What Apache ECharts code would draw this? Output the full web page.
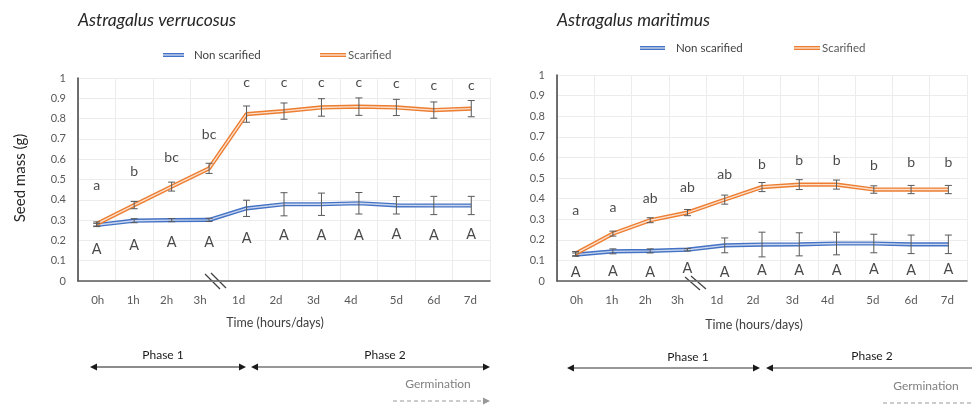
<!DOCTYPE html>
<html><head><meta charset="utf-8">
<script src="https://cdn.jsdelivr.net/npm/echarts@6/dist/echarts.min.js"></script>
<style>html,body{margin:0;padding:0;background:#fff}#c{width:972px;height:405px}</style>
</head><body><div id="c"></div>
<script>
const cats = ['0h','1h','2h','3h','1d','2d','3d','4d','5d','6d','7d'];
const yTicks = [0,0.1,0.2,0.3,0.4,0.5,0.6,0.7,0.8,0.9,1];

const verrNon = [0.276,0.297,0.300,0.301,0.358,0.378,0.378,0.383,0.373,0.372,0.372];
const verrNonErr = [0.008,0.010,0.008,0.008,0.040,0.057,0.055,0.053,0.043,0.045,0.045];
const verrScar = [0.281,0.374,0.465,0.555,0.822,0.837,0.855,0.859,0.855,0.842,0.849];
const verrScarErr = [0.010,0.018,0.022,0.025,0.040,0.040,0.043,0.043,0.040,0.040,0.040];
const verrLower = ['a','b','bc','bc','c','c','c','c','c','c','c'];
const verrLowerY = [0.47,0.54,0.61,0.72,0.98,0.98,0.98,0.98,0.975,0.965,0.965];
const verrUpper = ['A','A','A','A','A','A','A','A','A','A','A'];
const verrUpperY = [0.157,0.177,0.192,0.19,0.212,0.227,0.227,0.227,0.232,0.227,0.232];

const mariNon = [0.128,0.144,0.146,0.152,0.173,0.177,0.178,0.182,0.182,0.178,0.178];
const mariNonErr = [0.008,0.012,0.010,0.006,0.036,0.060,0.056,0.055,0.045,0.045,0.045];
const mariScar = [0.133,0.230,0.295,0.332,0.395,0.456,0.468,0.468,0.444,0.444,0.444];
const mariScarErr = [0.010,0.012,0.012,0.015,0.022,0.022,0.024,0.022,0.018,0.020,0.020];
const mariLower = ['a','a','ab','ab','ab','b','b','b','b','b','b'];
const mariLowerY = [0.343,0.356,0.40,0.456,0.518,0.565,0.586,0.586,0.562,0.576,0.576];
const mariUpper = ['A','A','A','A','A','A','A','A','A','A','A'];
const mariUpperY = [0.044,0.046,0.042,0.06,0.042,0.052,0.052,0.052,0.057,0.052,0.057];

const FONT = 'Lato';
const BLUE = '#4472C4', BLUE_IN = '#C9D6EE';
const ORANGE = '#ED7D31', ORANGE_IN = '#FBE0CC';
const labelShiftL = [1,-1,-5,-9,-8,-8,-8,-8,0,0,-1];
const labelShiftR = [1,-1,-5,-10,-8,-9,-7,-9,-1,0,-1];

function richFor(shifts){
  const r = {};
  shifts.forEach((s,i)=>{
    r['s'+i] = {fontFamily:FONT,fontSize:11.5,color:'#595959',padding: s>=0 ? [0,0,0,2*s] : [0,-2*s,0,0]};
  });
  return r;
}

function xAxis(gi, shifts){
  return {
    type:'category', gridIndex:gi, data:cats, boundaryGap:true,
    axisLine:{show:true,lineStyle:{color:'#595959',width:1.5}},
    axisTick:{show:false},
    splitLine:{show:true,interval:0,lineStyle:{color:'#ECECEC',width:1}},
    axisLabel:{interval:0,margin:13,formatter:(v,i)=>'{s'+i+'|'+v+'}',rich:richFor(shifts)}
  };
}
function yAxis(gi){
  return {
    type:'value', gridIndex:gi, min:yTicks[0], max:yTicks[yTicks.length-1], interval:0.1,
    axisLine:{show:true,lineStyle:{color:'#404040',width:1.5}},
    axisTick:{show:false},
    splitLine:{show:true,lineStyle:{color:'#ECECEC',width:1}},
    axisLabel:{fontFamily:FONT,fontSize:11,color:'#595959',margin:12}
  };
}
function dbl(gi, vals, outer, inner, z){
  return [
    {type:'line',xAxisIndex:gi,yAxisIndex:gi,data:vals,symbol:'none',lineStyle:{color:outer,width:4.2},z:z,silent:true,animation:false},
    {type:'line',xAxisIndex:gi,yAxisIndex:gi,data:vals,symbol:'none',lineStyle:{color:inner,width:1.4},z:z+0.5,silent:true,animation:false}
  ];
}
function errs(gi, vals, e){
  return {
    type:'custom', xAxisIndex:gi, yAxisIndex:gi, z:10, animation:false, silent:true,
    data: vals.map((v,i)=>[i, v-e[i], v+e[i]]),
    renderItem:(params, api)=>{
      const lo = api.coord([api.value(0), api.value(1)]);
      const hi = api.coord([api.value(0), api.value(2)]);
      const st = {stroke:'#595959', lineWidth:1};
      const w = 3.5;
      return {type:'group', children:[
        {type:'line', shape:{x1:hi[0],y1:hi[1],x2:lo[0],y2:lo[1]}, style:st},
        {type:'line', shape:{x1:hi[0]-w,y1:hi[1],x2:hi[0]+w,y2:hi[1]}, style:st},
        {type:'line', shape:{x1:lo[0]-w,y1:lo[1],x2:lo[0]+w,y2:lo[1]}, style:st}
      ]};
    }
  };
}
function letters(gi, texts, ys, size){
  return {
    type:'scatter', xAxisIndex:gi, yAxisIndex:gi, symbolSize:1, itemStyle:{color:'rgba(0,0,0,0)'},
    silent:true, animation:false, z:12,
    data: texts.map((t,i)=>({value:[i, ys[i]], name:t})),
    label:{show:true, position:'inside', formatter:p=>p.name, fontFamily:FONT, fontSize:size, color:'#1a1a1a'}
  };
}

function txt(x,y,s,opt){
  return Object.assign({type:'text', x:x, y:y, silent:true,
    style:Object.assign({text:s, fontFamily:FONT, fontSize:12, fill:'#262626', align:'center', verticalAlign:'middle'}, opt||{})});
}
function hline(x1,x2,y,color,width,dash){
  return {type:'line', silent:true, shape:{x1:x1,y1:y,x2:x2,y2:y}, style:{stroke:color,lineWidth:width,lineDash:dash||null}};
}
function head(x,y,dir,color){
  const l=7,h=3.5;
  return {type:'polygon', silent:true, shape:{points:[[x,y],[x-dir*l,y-h],[x-dir*l,y+h]]}, style:{fill:color}};
}
function legendLine(x1,x2,y,outer,inner){
  return [hline(x1,x2,y,outer,4), hline(x1,x2,y,inner,1.4)];
}
function seg(x1,y1,x2,y2){
  return {type:'line', silent:true, shape:{x1,y1,x2,y2}, style:{stroke:'#404040',lineWidth:1.2}};
}

const graphics = [
  txt(78,20,'Astragalus verrucosus',{align:'left',fontSize:17.5,fontStyle:'italic'}),
  txt(557,20,'Astragalus maritimus',{align:'left',fontSize:17.5,fontStyle:'italic'}),
  ...legendLine(163,184,55,BLUE,BLUE_IN),
  txt(194,55,'Non scarified',{align:'left',fontSize:11.5,fill:'#404040'}),
  ...legendLine(320,346,55,ORANGE,ORANGE_IN),
  txt(348,55,'Scarified',{align:'left',fontSize:11.5,fill:'#595959'}),
  ...legendLine(640,665,48,BLUE,BLUE_IN),
  txt(676,48,'Non scarified',{align:'left',fontSize:11.5,fill:'#404040'}),
  ...legendLine(794,820,48,ORANGE,ORANGE_IN),
  txt(822,48,'Scarified',{align:'left',fontSize:11.5,fill:'#595959'}),
  {type:'text', x:20, y:178, rotation:Math.PI/2, silent:true,
    style:{text:'Seed mass (g)', fontFamily:FONT, fontSize:15, fill:'#262626', align:'center', verticalAlign:'middle'}},
  txt(275,323,'Time (hours/days)',{fill:'#404040',fontSize:12.5}),
  txt(754,325,'Time (hours/days)',{fill:'#404040',fontSize:12.5}),
  seg(205,274,220,289), seg(211,273,226,288),
  seg(685,277,700,290), seg(691,276,706,289),
  // phases left
  txt(163,355,'Phase 1',{fill:'#1a1a1a'}),
  hline(92,244,367,'#1a1a1a',1.2), head(90,367,-1,'#1a1a1a'), head(246,367,1,'#1a1a1a'),
  txt(385,355,'Phase 2',{fill:'#1a1a1a'}),
  hline(253,488,367,'#333',1.2), head(251,367,-1,'#1a1a1a'), head(490,367,1,'#1a1a1a'),
  txt(438,384,'Germination',{fill:'#808080'}),
  hline(393,484,401,'#999',1,[4,3]), head(490,401,1,'#999'),
  // phases right
  txt(688,357,'Phase 1',{fill:'#1a1a1a'}),
  hline(569,758,368,'#333',1.2), head(567,368,-1,'#1a1a1a'), head(760,368,1,'#1a1a1a'),
  txt(872,356,'Phase 2',{fill:'#1a1a1a'}),
  hline(768,972,368,'#333',1.2), head(766,368,-1,'#1a1a1a'),
  txt(926,386,'Germination',{fill:'#808080'}),
  hline(883,972,403,'#999',1,[4,3])
];

const chart = echarts.init(document.getElementById('c'), null, {renderer:'canvas'});
chart.setOption({
  animation:false,
  backgroundColor:'#fff',
  grid:[
    {left:78, right:482, top:78, bottom:124, containLabel:false},
    {left:557, right:5, top:75, bottom:124, containLabel:false}
  ],
  xAxis:[xAxis(0,labelShiftL), xAxis(1,labelShiftR)],
  yAxis:[yAxis(0), yAxis(1)],
  series:[
    ...dbl(0, verrNon, BLUE, BLUE_IN, 3),
    ...dbl(0, verrScar, ORANGE, ORANGE_IN, 4),
    errs(0, verrNon, verrNonErr),
    errs(0, verrScar, verrScarErr),
    letters(0, verrLower, verrLowerY, 14),
    letters(0, verrUpper, verrUpperY, 14.5),
    ...dbl(1, mariNon, BLUE, BLUE_IN, 3),
    ...dbl(1, mariScar, ORANGE, ORANGE_IN, 4),
    errs(1, mariNon, mariNonErr),
    errs(1, mariScar, mariScarErr),
    letters(1, mariLower, mariLowerY, 14),
    letters(1, mariUpper, mariUpperY, 14.5)
  ],
  graphic: graphics
});
</script></body></html>
